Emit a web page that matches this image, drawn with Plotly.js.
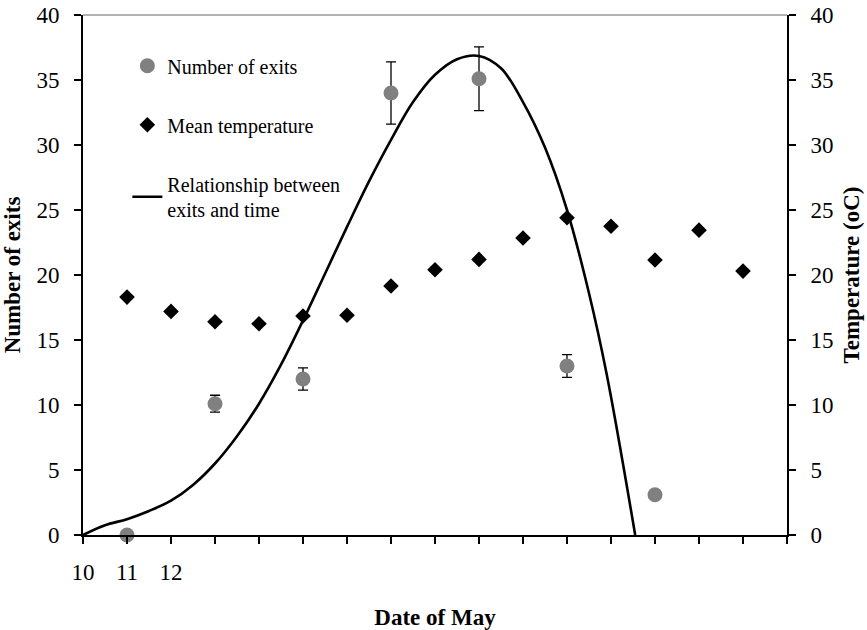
<!DOCTYPE html>
<html>
<head>
<meta charset="utf-8">
<script src="https://cdn.plot.ly/plotly-3.0.1.min.js"></script>
<style>html,body{margin:0;padding:0;background:#fff;}#chart{width:867px;height:630px;}</style>
</head>
<body>
<div id="chart"></div>
<script>
// Tick values / labels on the date axis
const dayTicks = [10,11,12,13,14,15,16,17,18,19,20,21,22,23,24,25,26];
const dayTickLabels = ['10','11','12','','','','','','','','','','','','','',''];

// Number of exits (grey circles) with error bars
const exitDays = [11,13,15,17,19,21,23];
const exits = [0,10.1,12.0,34.0,35.1,13.0,3.1];
const exitErr = [0,0.65,0.85,2.4,2.45,0.87,0];

// Mean temperature (black diamonds), right axis
const tempDays = [11,12,13,14,15,16,17,18,19,20,21,22,23,24,25];
const temps = [18.3,17.2,16.4,16.25,16.85,16.9,19.15,20.4,21.2,22.85,24.4,23.75,21.15,23.45,20.3];

// Relationship between exits and time (fitted curve)
const fitDays = [10,10.5,11,11.5,12,12.5,13,13.5,14,14.5,15,15.5,16,16.5,17,17.5,18,18.5,19,19.5,20,20.5,21,21.5,21.9,22.55];
const fitVals = [0,0.75,1.22,1.85,2.64,3.85,5.5,7.6,10.1,13.1,16.5,20.1,23.7,27.2,30.4,33.3,35.4,36.6,36.85,35.9,33.3,29.8,25.0,18.6,12.4,0];

const serif = 'Liberation Serif, Times New Roman, serif';

const traces = [
  {
    x: exitDays, y: exits, type: 'scatter', mode: 'markers',
    name: 'Number of exits', legendgroup: 'a',
    marker: {color: '#808080', size: 15, symbol: 'circle'},
    error_y: {type: 'data', array: exitErr, visible: true, color: '#000', thickness: 1.3, width: 5},
    cliponaxis: false
  },
  {
    x: tempDays, y: temps, type: 'scatter', mode: 'markers', yaxis: 'y2',
    name: 'Mean temperature', legendgroup: 'b',
    marker: {color: '#000', size: 12, symbol: 'diamond'}
  },
  {
    x: fitDays, y: fitVals, type: 'scatter', mode: 'lines',
    name: 'Relationship between<br>exits and time', legendgroup: 'c',
    line: {color: '#000', width: 2.6, shape: 'spline', smoothing: 1}
  }
];

const axisFont = {family: serif, size: 23, color: '#000'};
const titleFont = {family: serif, size: 23, color: '#000', weight: 'bold'};

const layout = {
  width: 867, height: 630,
  margin: {l: 83, r: 80, t: 15, b: 95},
  paper_bgcolor: '#fff', plot_bgcolor: '#fff',
  font: {family: serif, color: '#000'},
  showlegend: true,
  legend: {
    x: 0.063, y: 0.94, xanchor: 'left', yanchor: 'top',
    bgcolor: 'rgba(0,0,0,0)', borderwidth: 0,
    font: {family: serif, size: 20, color: '#000'},
    traceorder: 'grouped', tracegroupgap: 30
  },
  xaxis: {
    range: [10, 26], tickmode: 'array', tickvals: dayTicks, ticktext: dayTickLabels,
    showline: true, linecolor: '#000', linewidth: 2,
    ticks: 'outside', ticklen: 7, tickwidth: 1.5, tickcolor: '#000',
    showgrid: false, zeroline: false, tickfont: axisFont, ticklabelstandoff: 8,
    title: {text: '<b>Date of May</b>', font: titleFont, standoff: 30}
  },
  yaxis: {
    range: [0, 40], dtick: 5, tick0: 0,
    showline: true, linecolor: '#000', linewidth: 2,
    ticks: 'outside', ticklen: 7, tickwidth: 1.5, tickcolor: '#000',
    showgrid: false, zeroline: false, tickfont: axisFont, ticklabelstandoff: 10,
    title: {text: '<b>Number of exits</b>', font: titleFont, standoff: 10}
  },
  yaxis2: {
    range: [0, 40], dtick: 5, tick0: 0, overlaying: 'y', side: 'right',
    showline: true, linecolor: '#000', linewidth: 2,
    ticks: 'outside', ticklen: 7, tickwidth: 1.5, tickcolor: '#000',
    showgrid: false, zeroline: false, tickfont: axisFont, ticklabelstandoff: 10,
    title: {text: '<b>Temperature (oC)</b>', font: titleFont, standoff: 10}
  },
  shapes: [
    {type: 'line', xref: 'paper', yref: 'paper', x0: 0, x1: 1, y0: 1, y1: 1,
     line: {color: '#999', width: 1.5}}
  ]
};

Plotly.newPlot('chart', traces, layout, {displayModeBar: false, staticPlot: true});
</script>
</body>
</html>
